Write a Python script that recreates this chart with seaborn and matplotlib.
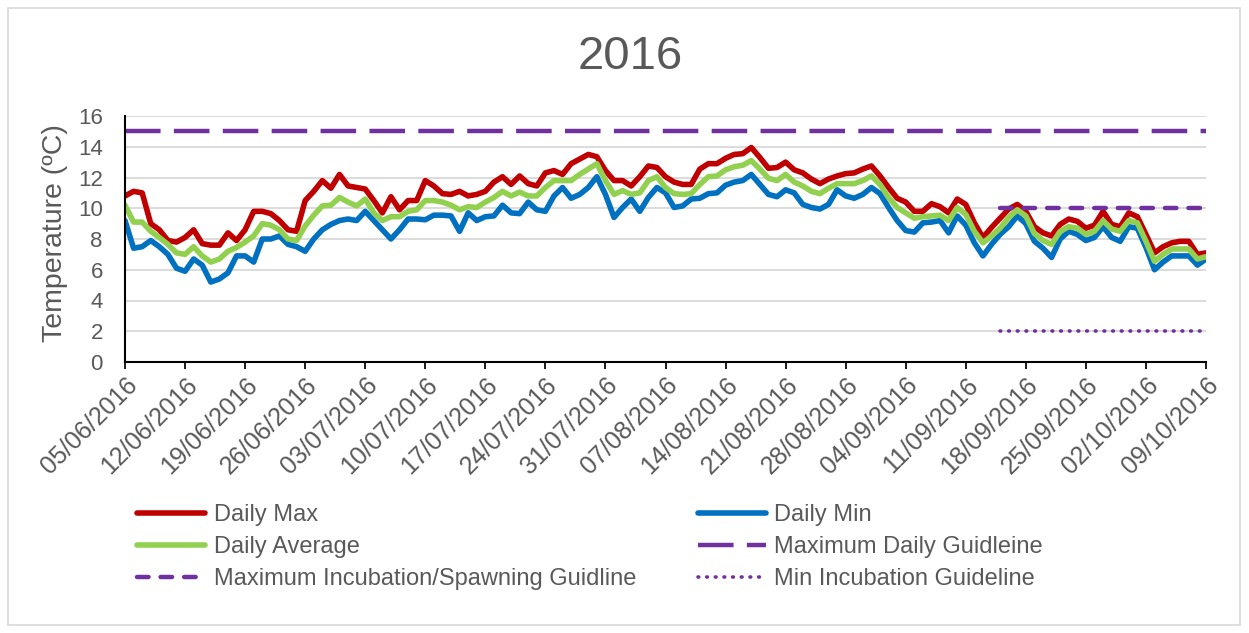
import numpy as np
import pandas as pd
import matplotlib
matplotlib.use("Agg")
import matplotlib.pyplot as plt
import matplotlib.dates as mdates
import seaborn as sns
from matplotlib.patches import Rectangle

# daily water temperatures from 05/06/2016 to 09/10/2016
start_date = "2016-06-05"
end_date = "2016-10-09"

daily_max = [10.8, 11.1, 11.0, 9.0, 8.6, 7.9, 7.8, 8.1, 8.6, 7.7, 7.6, 7.6, 8.4, 7.9, 8.6, 9.8,
             9.8, 9.65, 9.2, 8.6, 8.5, 10.5, 11.1, 11.8, 11.3, 12.2, 11.45, 11.35, 11.25, 10.5, 9.7,
             10.75, 9.9, 10.5, 10.5, 11.8, 11.45, 10.95, 10.9, 11.1, 10.8, 10.9, 11.1, 11.7, 12.05,
             11.55, 12.1, 11.6, 11.45, 12.3, 12.45, 12.2, 12.9, 13.2, 13.5, 13.35, 12.45, 11.8, 11.8,
             11.45, 12.05, 12.75, 12.65, 12.05, 11.7, 11.55, 11.55, 12.55, 12.9, 12.9, 13.25, 13.5,
             13.55, 13.95, 13.3, 12.6, 12.65, 13.0, 12.5, 12.3, 11.9, 11.6, 11.9, 12.1, 12.25, 12.3,
             12.55, 12.75, 12.1, 11.35, 10.65, 10.4, 9.8, 9.8, 10.3, 10.1, 9.7, 10.6, 10.25, 9.05,
             8.1, 8.75, 9.35, 9.95, 10.25, 9.8, 8.8, 8.4, 8.2, 8.95, 9.3, 9.15, 8.7, 8.9, 9.8, 8.95,
             8.8, 9.7, 9.45, 8.3, 7.1, 7.5, 7.75, 7.85, 7.85, 7.0, 7.1]

daily_min = [9.2, 7.4, 7.5, 7.9, 7.5, 7.0, 6.1, 5.9, 6.7, 6.3, 5.2, 5.4, 5.8, 6.9, 6.9, 6.5,
             8.0, 8.0, 8.2, 7.65, 7.5, 7.2, 8.0, 8.6, 8.95, 9.2, 9.3, 9.2, 9.8, 9.2, 8.6,
             8.0, 8.6, 9.3, 9.3, 9.25, 9.55, 9.55, 9.5, 8.5, 9.7, 9.2, 9.45, 9.5, 10.2,
             9.7, 9.65, 10.4, 9.9, 9.8, 10.8, 11.35, 10.65, 10.9, 11.35, 12.05, 10.9, 9.4, 10.05,
             10.6, 9.8, 10.7, 11.35, 11.0, 10.05, 10.15, 10.6, 10.65, 10.95, 11.0, 11.5, 11.7,
             11.8, 12.2, 11.55, 10.9, 10.75, 11.2, 11.0, 10.25, 10.05, 9.95, 10.25, 11.2, 10.8, 10.65,
             10.9, 11.35, 10.95, 10.05, 9.2, 8.55, 8.45, 9.05, 9.1, 9.2, 8.4, 9.5, 8.9, 7.75,
             6.9, 7.65, 8.3, 8.8, 9.5, 9.0, 7.85, 7.4, 6.8, 8.0, 8.5, 8.3, 7.9, 8.1, 8.8, 8.1,
             7.85, 8.8, 8.7, 7.45, 6.0, 6.5, 6.9, 6.9, 6.9, 6.3, 6.7]

daily_avg = [10.2, 9.1, 9.1, 8.5, 8.1, 7.65, 7.1, 7.0, 7.5, 6.9, 6.5, 6.7, 7.2, 7.45, 7.8, 8.2,
             9.0, 8.9, 8.6, 8.0, 7.9, 8.85, 9.55, 10.15, 10.2, 10.7, 10.4, 10.15, 10.6, 9.7, 9.2,
             9.45, 9.45, 9.8, 9.9, 10.5, 10.5, 10.4, 10.2, 9.9, 10.1, 10.05, 10.4, 10.7, 11.1,
             10.8, 11.05, 10.8, 10.8, 11.35, 11.8, 11.8, 11.8, 12.2, 12.55, 12.9, 11.8, 10.9, 11.15,
             10.9, 11.0, 11.8, 12.05, 11.35, 10.95, 10.9, 10.95, 11.55, 12.05, 12.1, 12.5, 12.7,
             12.8, 13.1, 12.55, 11.95, 11.8, 12.2, 11.7, 11.45, 11.1, 10.95, 11.3, 11.6, 11.6, 11.6,
             11.8, 12.1, 11.55, 10.7, 10.05, 9.7, 9.35, 9.45, 9.5, 9.55, 9.2, 10.05, 9.6, 8.5,
             7.75, 8.2, 8.7, 9.4, 9.9, 9.5, 8.35, 7.9, 7.65, 8.5, 8.8, 8.7, 8.3, 8.5, 9.2, 8.65,
             8.5, 9.2, 9.05, 7.85, 6.55, 7.0, 7.35, 7.35, 7.35, 6.7, 6.85]

# guideline levels
max_daily_guideline = 15
incubation_start = "2016-09-15"
max_incubation_guideline = 10
min_incubation_guideline = 2

dates = pd.date_range(start_date, periods=len(daily_max), freq="D")
df = pd.DataFrame({"Date": dates, "Daily Max": daily_max,
                   "Daily Min": daily_min, "Daily Average": daily_avg})
df["Max Daily"] = max_daily_guideline
inc = df[df["Date"] >= incubation_start].copy()
inc["Max Inc"] = max_incubation_guideline
inc["Min Inc"] = min_incubation_guideline

sns.set_theme(style="white")
plt.rcParams["font.family"] = ["Liberation Sans", "DejaVu Sans"]
grey = "#595959"

W, H = 1249, 633
fig = plt.figure(figsize=(W / 100, H / 100), dpi=100)
fig.patches.append(Rectangle((8 / W, 8 / H), 1232 / W, 617 / H, transform=fig.transFigure,
                             fill=False, edgecolor="#d9d9d9", lw=1.2))
ax = fig.add_axes([125 / W, 1 - 362 / H, 1081 / W, 246 / H])

sns.lineplot(data=df, x="Date", y="Daily Max", color="#C00000", lw=4, ax=ax, label="Daily Max")
sns.lineplot(data=df, x="Date", y="Daily Min", color="#0070C0", lw=4, ax=ax, label="Daily Min")
sns.lineplot(data=df, x="Date", y="Daily Average", color="#92D050", lw=4, ax=ax, label="Daily Average")
sns.lineplot(data=df, x="Date", y="Max Daily", color="#7030A0", lw=3.2, ax=ax,
             label="Maximum Daily Guidleine")
ax.get_lines()[-1].set_linestyle((0, (8, 3)))
sns.lineplot(data=inc, x="Date", y="Max Inc", color="#7030A0", lw=3.2, ax=ax,
             label="Maximum Incubation/Spawning Guidline")
ax.get_lines()[-1].set_linestyle((0, (2.6, 2.7)))
ax.get_lines()[-1].set_dash_capstyle("round")
sns.lineplot(data=inc, x="Date", y="Min Inc", color="#7030A0", lw=2.6, ax=ax,
             label="Min Incubation Guideline")
ax.get_lines()[-1].set_linestyle((0, (0.2, 2.2)))
ax.get_lines()[-1].set_dash_capstyle("round")

ax.set_ylim(0, 16)
ax.set_yticks(range(0, 17, 2))
ax.set_xlim(dates[0], dates[-1])
ax.set_xticks(pd.date_range(start_date, end_date, freq="7D"))
ax.xaxis.set_major_formatter(mdates.DateFormatter("%d/%m/%Y"))
ax.set_xlabel("")
ax.set_ylabel("")
ax.yaxis.grid(True, color="#d9d9d9", lw=1.3)
ax.set_axisbelow(True)
for s in ["top", "right"]:
    ax.spines[s].set_visible(False)
ax.spines["left"].set_color("#000000")
ax.spines["bottom"].set_color("#000000")
ax.spines["left"].set_linewidth(1.5)
ax.spines["bottom"].set_linewidth(1.5)
ax.tick_params(axis="y", length=0, labelsize=16, labelcolor=grey, pad=16)
ax.tick_params(axis="x", length=5, color="#000000", labelsize=18, labelcolor=grey, pad=3,
               bottom=True)
for lab in ax.get_xticklabels():
    lab.set_rotation(45)
    lab.set_ha("right")
    lab.set_rotation_mode("anchor")

fig.text(0.505, 1 - 57 / H, "2016", ha="center", va="center", fontsize=34, color=grey)
fig.text(55 / W, 1 - 233 / H, "Temperature (ºC)", rotation=90, ha="center", va="center",
         fontsize=20.5, color=grey)

handles, labels = ax.get_legend_handles_labels()
lookup = dict(zip(labels, handles))
order = ["Daily Max", "Daily Average", "Maximum Incubation/Spawning Guidline",
         "Daily Min", "Maximum Daily Guidleine", "Min Incubation Guideline"]
ax.legend([lookup[k] for k in order], order, ncol=2, loc="upper left",
          bbox_to_anchor=(137 / W, 1 - 504 / H), bbox_transform=fig.transFigure,
          frameon=False, fontsize=17, labelcolor=grey, handlelength=2.9,
          handletextpad=0.35, columnspacing=2.6, labelspacing=0.42, borderpad=0,
          borderaxespad=0)

fig.savefig("out.png", dpi=100)
